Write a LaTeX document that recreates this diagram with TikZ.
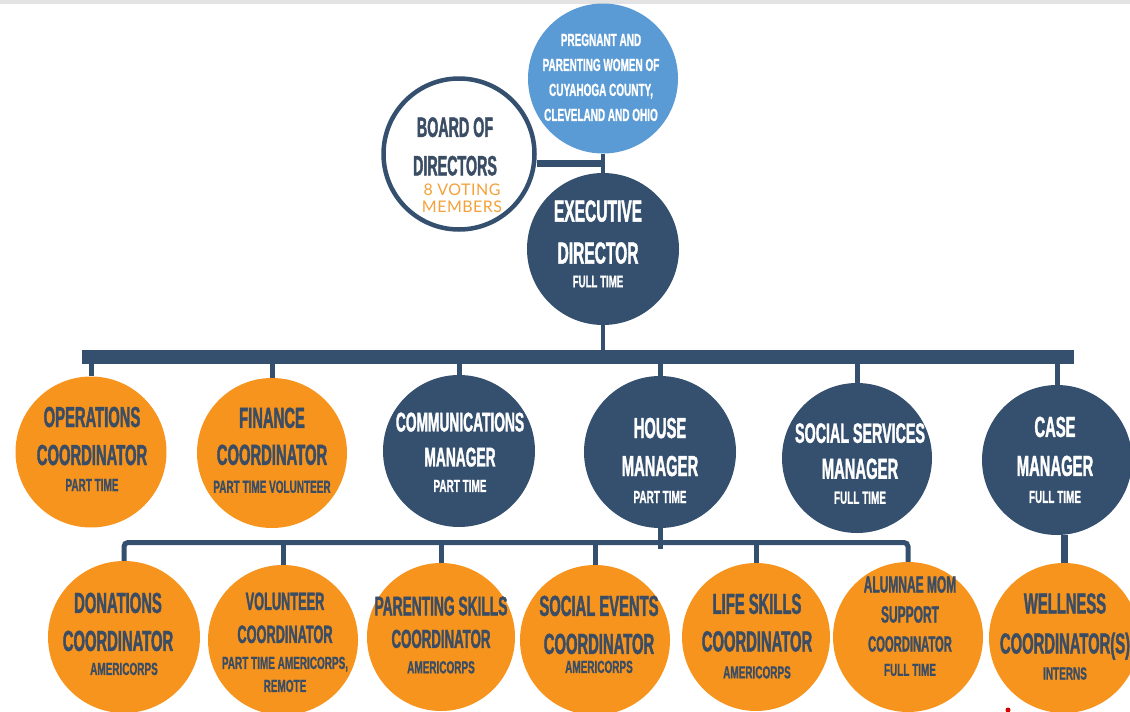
\documentclass[tikz,border=0pt]{standalone}
\usepackage{fontspec}
\newfontfamily\bbm[FakeStretch=0.51, FakeBold=1.3]{Liberation Sans}
\newfontfamily\bbs[FakeStretch=0.57, FakeBold=0.9]{Liberation Sans}
\newfontfamily\latof[LetterSpace=3]{Lato}
\definecolor{navy}{HTML}{34506E}
\definecolor{navytxt}{HTML}{3A4D64}
\definecolor{orng}{HTML}{F7941E}
\definecolor{sky}{HTML}{5B9BD5}
\definecolor{gold}{HTML}{F3A23B}
\newcommand\T[2]{\bbm\bfseries\fontsize{#1}{#2}\selectfont}
\newcommand\sub[2][17.5]{{\bbs\bfseries\fontsize{#1}{#1}\selectfont #2}}
\newcommand\tsz[2]{{\fontsize{#1}{#1}\selectfont #2}}
\begin{document}
\begin{tikzpicture}[x=1pt,y=-1pt,
  disc/.style={circle, inner sep=0pt, minimum size=#1},
  ttl/.style={inner sep=0pt, align=center},
  conn/.style={draw=navy, line width=#1}]
\useasboundingbox (0,0) rectangle (1130,712);
\fill[gray!22] (0,0) rectangle (1130,4);

% ---------- circles ----------
\node[disc=150, fill=sky] (preg) at (603,78.5) {};
\node[disc=151, draw=navy, line width=4.5pt, fill=white] (board) at (459,154) {};
\node[disc=152, fill=navy] (exec) at (603,249) {};

\node[disc=151, fill=orng] (ops) at (91,452) {};
\node[disc=150, fill=orng] (fin) at (272,453) {};
\node[disc=152, fill=navy] (comm) at (459,451) {};
\node[disc=152, fill=navy] (house) at (660,452) {};
\node[disc=150, fill=navy] (soc) at (857,458) {};
\node[disc=150, fill=navy] (case) at (1057,460) {};

\node[disc=152, fill=orng] (don) at (124,637) {};
\node[disc=150, fill=orng] (vol) at (283,640) {};
\node[disc=148, fill=orng] (par) at (441,637) {};
\node[disc=150, fill=orng] (sev) at (595,640) {};
\node[disc=148, fill=orng] (life) at (756,637) {};
\node[disc=150, fill=orng] (alum) at (908,637) {};
\node[disc=150, fill=orng] (well) at (1064,638) {};

% ---------- connectors ----------
\coordinate (bj) at (605,163);
\coordinate (barL) at (82,357);
\coordinate (barR) at (1074,357);
\coordinate (hj) at (660,542.5);
\coordinate (hk) at (660,549);

\draw[conn=4pt] (preg.south) -- (exec.north);
\draw[conn=7pt] (board.east |- bj) -- (bj);
\draw[conn=4pt] (exec.south) -- (exec.south |- barL);
\draw[conn=14pt] (barL) -- (barR);
\foreach \n in {ops,fin,comm,house,soc,case}
  \draw[conn=5pt] (\n.north) -- (\n.north |- barL);
\draw[conn=5pt, rounded corners=4pt] (don.north) |- (hj) -| (alum.north);
\foreach \n in {vol,par,sev,life}
  \draw[conn=5pt] (\n.north) -- (\n.north |- hj);
\draw[conn=5pt] (house.south) -- (hk);
\draw[conn=7pt] (case.south -| well.north) -- (well.north);

% ---------- texts ----------
\node[ttl, text=white, font=\bbs\bfseries\fontsize{17.5}{25}\selectfont] (preg-t) at (601,77.4)
  {PREGNANT AND\\PARENTING WOMEN OF\\CUYAHOGA COUNTY,\\CLEVELAND AND OHIO};
\node[ttl, text=navytxt, font=\T{28}{38.5}] (board-t) at (455,146.5) {BOARD OF\\DIRECTORS};
\node[ttl, text=gold, font=\latof\fontsize{16}{17}\selectfont] (board-s) at (462,198.3) {8 VOTING\\MEMBERS};
\node[ttl, text=white, font=\T{30.5}{42}] (exec-t) at (598,243.9) {EXECUTIVE\\DIRECTOR\\[-18.2pt]\sub[17]{FULL TIME}};

\node[ttl, text=navytxt, font=\T{29}{38}] (ops-t) at (92,448.9) {OPERATIONS\\COORDINATOR\\[-12pt]\sub{PART TIME}};
\node[ttl, text=navytxt, font=\T{29}{37}] (fin-t) at (272,450.3) {FINANCE\\COORDINATOR\\[-9pt]\sub{PART TIME VOLUNTEER}};
\node[ttl, text=white, font=\T{27}{35}] (comm-t) at (460,452.3) {COMMUNICATIONS\\MANAGER\\[-9.5pt]\sub{PART TIME}};
\node[ttl, text=white, font=\T{29}{38}] (house-t) at (660,460.4) {HOUSE\\MANAGER\\[-11pt]\sub{PART TIME}};
\node[ttl, text=white, font=\T{28}{36}] (soc-t) at (860,463.6) {SOCIAL SERVICES\\\tsz{29}{MANAGER}\\[-11pt]\sub{FULL TIME}};
\node[ttl, text=white, font=\T{29}{39}] (case-t) at (1055,459.9) {CASE\\MANAGER\\[-12pt]\sub{FULL TIME}};

\node[ttl, text=navytxt, font=\T{29}{38}] (don-t) at (118,633.9) {DONATIONS\\COORDINATOR\\[-14pt]\hspace*{12pt}\sub{AMERICORPS}};
\node[ttl, text=navytxt, font=\T{25}{33}] (vol-t) at (285,642.3) {VOLUNTEER\\COORDINATOR\\[-7pt]\sub{PART TIME AMERICORPS,}\\[-10pt]\sub{REMOTE}};
\node[ttl, text=navytxt, font=\T{27}{32.5}] (par-t) at (441,635) {PARENTING SKILLS\\\tsz{26}{COORDINATOR}\\[-7pt]\sub{AMERICORPS}};
\node[ttl, text=navytxt, font=\T{29}{38}] (sev-t) at (599,634.4) {SOCIAL EVENTS\\COORDINATOR\\[-19pt]\sub{AMERICORPS}};
\node[ttl, text=navytxt, font=\T{29}{37.5}] (life-t) at (757,636.1) {LIFE SKILLS\\COORDINATOR\\[-10.5pt]\sub{AMERICORPS}};
\node[ttl, text=navytxt, font=\T{23.5}{30}] (alum-t) at (910,626.1) {ALUMNAE MOM\\SUPPORT\\[-1pt]\tsz{22}{COORDINATOR}\\[-5.7pt]\sub{FULL TIME}};
\node[ttl, text=navytxt, font=\T{29}{40}] (well-t) at (1065,636.5) {WELLNESS\\COORDINATOR(S)\\[-14pt]\sub{INTERNS}};

\fill[red!85!black] (1008,710) circle[radius=2.5pt];
\end{tikzpicture}
\end{document}
